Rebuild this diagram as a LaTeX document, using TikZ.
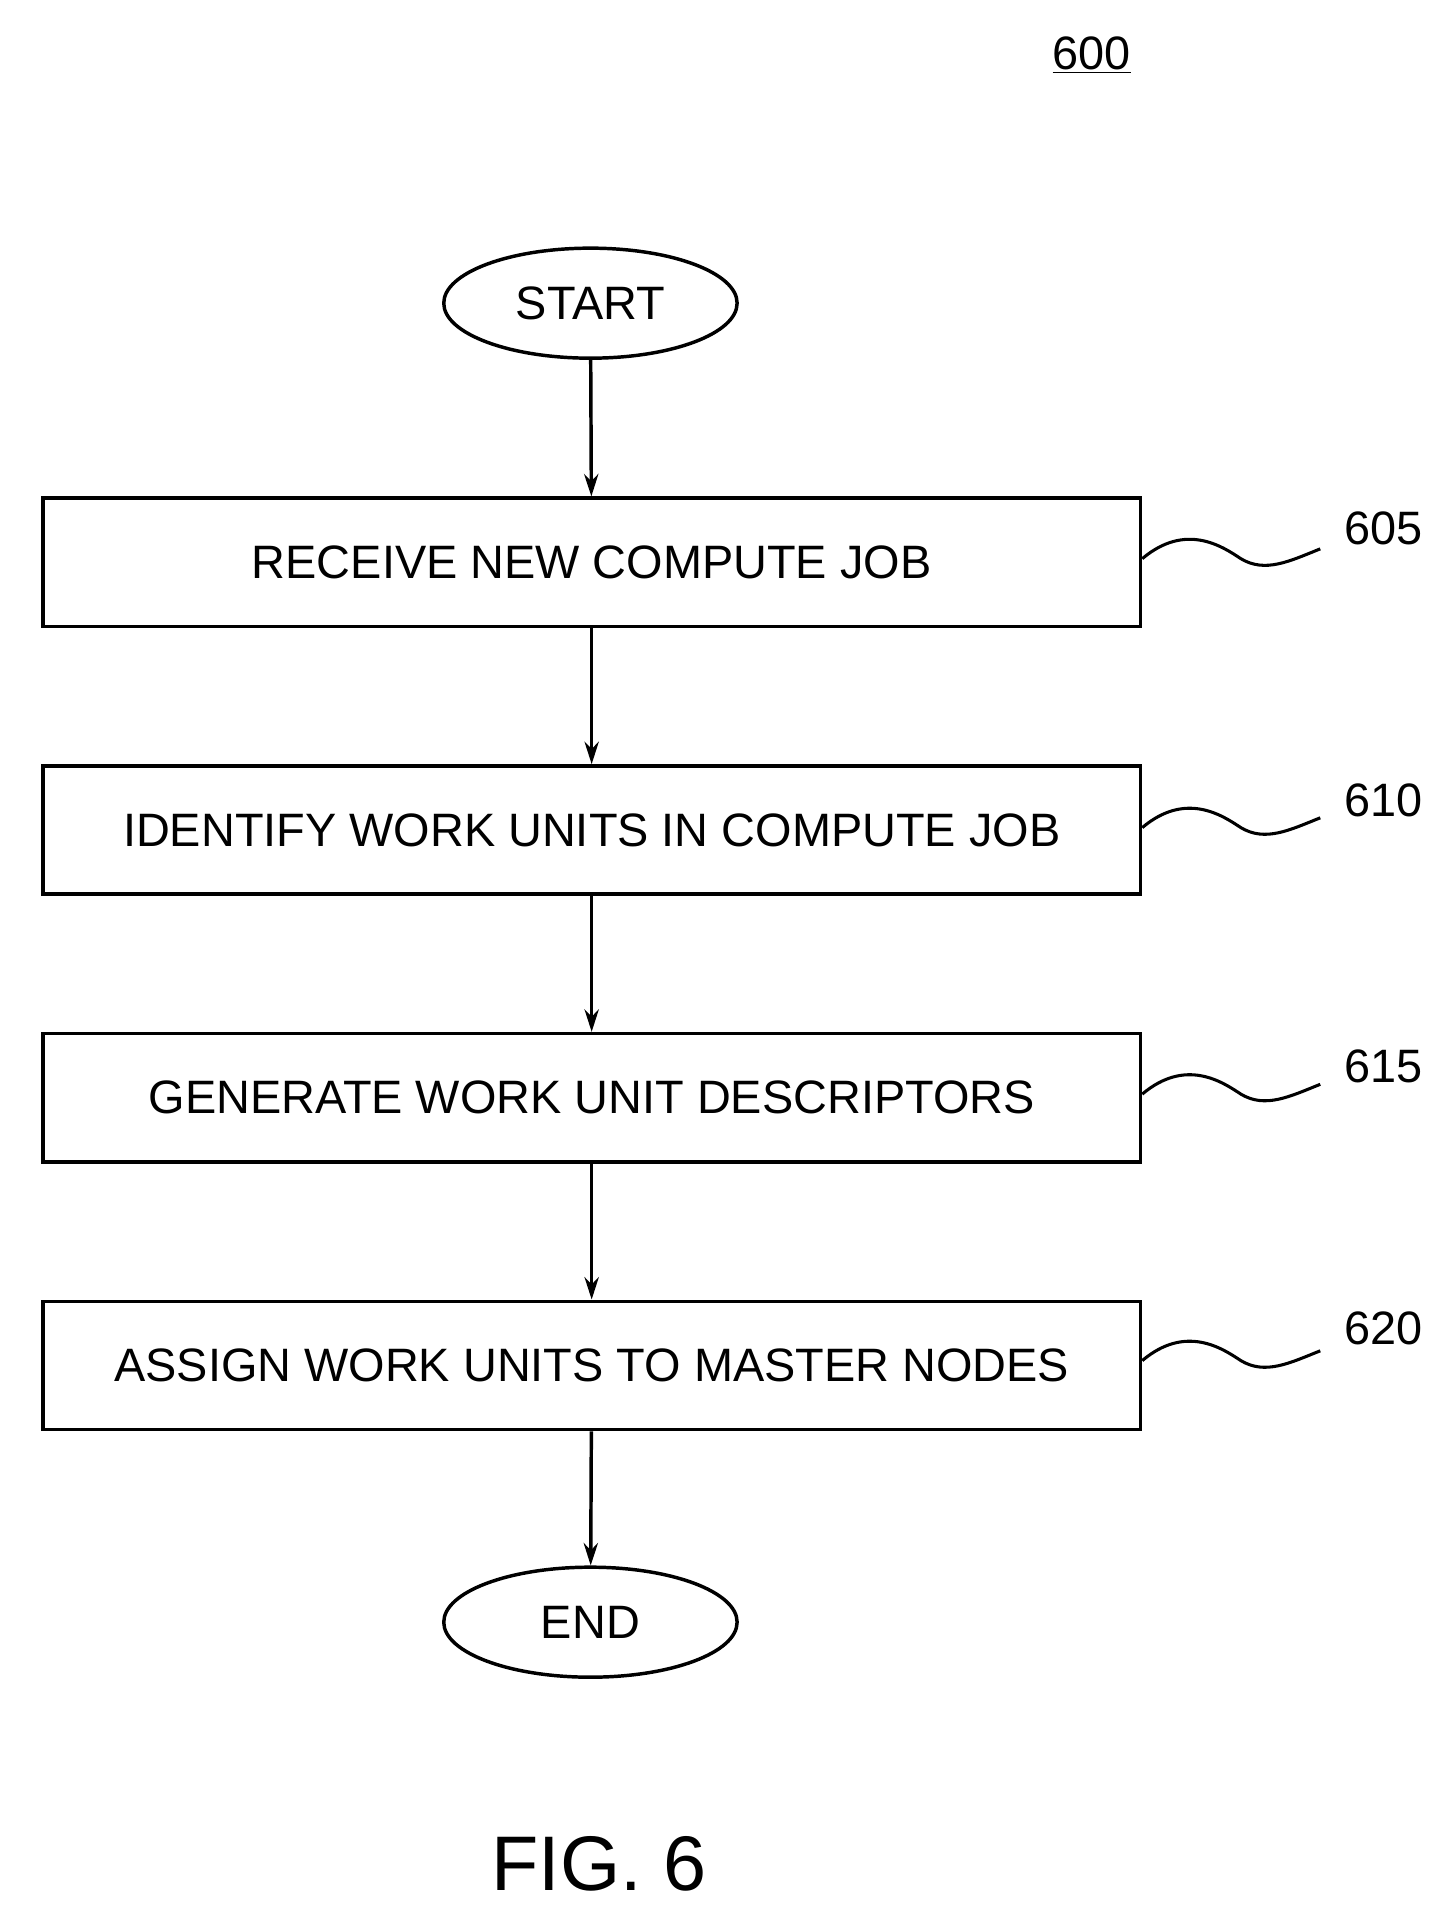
\documentclass[tikz,border=0pt]{standalone}
\usepackage{fontspec}
\setmainfont{Liberation Sans}
\usetikzlibrary{shapes.geometric,arrows.meta}
\begin{document}
\begin{tikzpicture}[x=0.6pt,y=-0.6pt,
  box/.style={draw,line width=1.7pt,minimum width=538.8pt,minimum height=63pt,font=\fontsize{23}{27}\selectfont},
  term/.style={draw,ellipse,line width=1.7pt,minimum width=144pt,minimum height=54pt,font=\fontsize{23}{27}\selectfont},
  arr/.style={-{Stealth[length=11pt,width=7pt]},line width=1.7pt},
  lbl/.style={font=\fontsize{23}{27}\selectfont},
  sq/.style={line width=1.5pt}]
\useasboundingbox (0,0) rectangle (1179,1569);
\node[font=\fontsize{23}{27}\selectfont] (n600) at (893,45) {\underline{600}};
\node[term] (start) at (483,248) {START};
\node[box] (b605) at (484,460) {RECEIVE NEW COMPUTE JOB};
\node[box] (b610) at (484,679) {IDENTIFY WORK UNITS IN COMPUTE JOB};
\node[box] (b615) at (484,898) {GENERATE WORK UNIT DESCRIPTORS};
\node[box] (b620) at (484,1117) {ASSIGN WORK UNITS TO MASTER NODES};
\node[term] (end) at (483,1327) {END};
\node[font=\fontsize{38}{44}\selectfont] (fig) at (490,1525) {FIG. 6};
\draw[arr] (start) -- (b605);
\draw[arr] (b605) -- (b610);
\draw[arr] (b610) -- (b615);
\draw[arr] (b615) -- (b620);
\draw[arr] (b620) -- (end);
\foreach \n/\y/\ly in {605/457/432,610/677/655,615/895/872,620/1113/1087}{
  \node[lbl] (l\n) at (1132,\ly) {\n};
  \coordinate (s\n) at (1080,\y-8);
  \draw[sq] (b\n.east |- 0,\y) .. controls (970,\y-30) and (1000,\y-10) .. (1015,\y+0)
     .. controls (1035,\y+12) and (1055,\y+2) .. (s\n);
}
\end{tikzpicture}
\end{document}
